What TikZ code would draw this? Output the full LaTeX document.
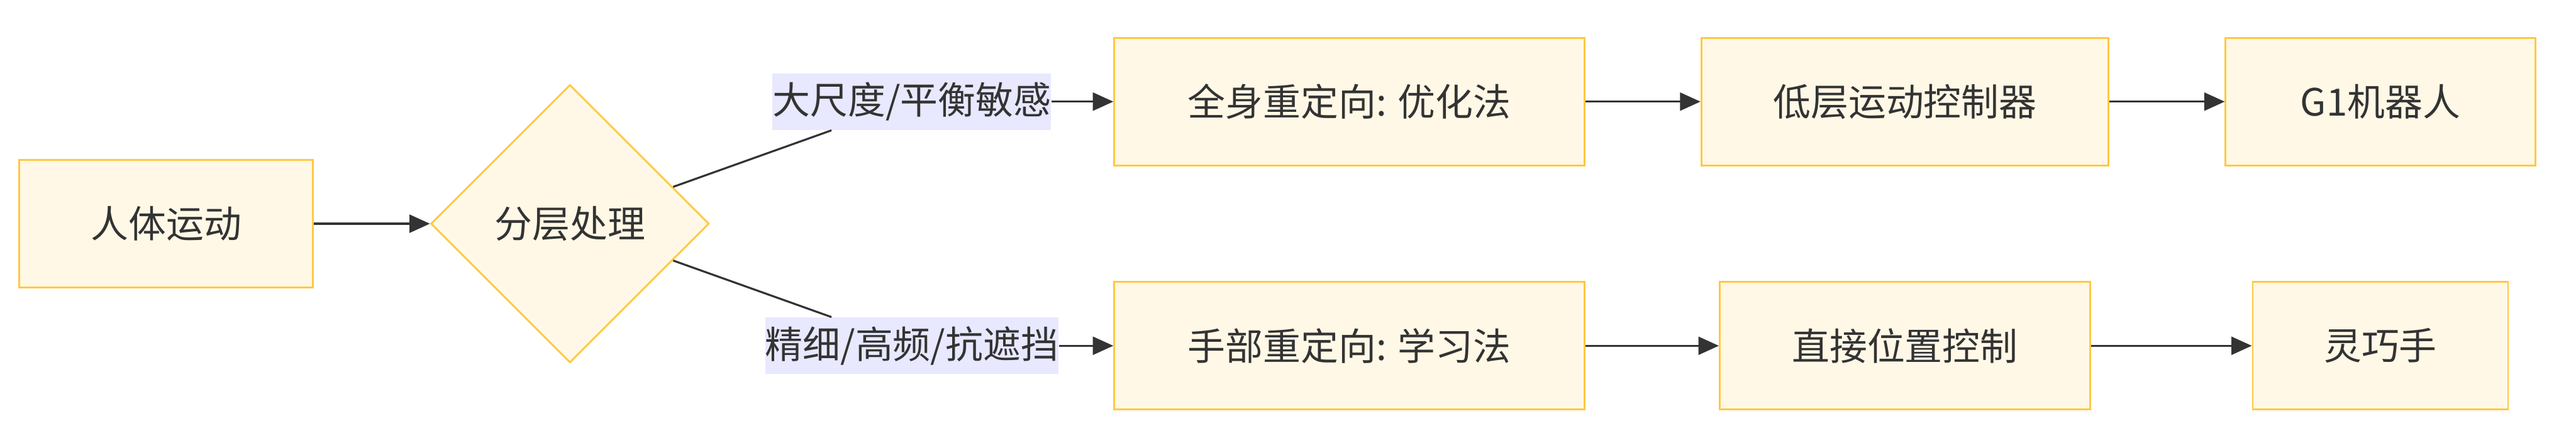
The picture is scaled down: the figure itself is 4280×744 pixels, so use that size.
\documentclass[tikz,border=0pt]{standalone}
\usepackage{fontspec}
\newfontfamily\cjk{Noto Sans CJK SC}
\usetikzlibrary{shapes.geometric,arrows.meta}
\definecolor{boxfill}{HTML}{FFF8E6}
\definecolor{boxline}{HTML}{FFC843}
\definecolor{labelbg}{HTML}{E8E8FF}
\definecolor{ink}{HTML}{333333}
\begin{document}
\begin{tikzpicture}[x=0.01cm,y=-0.01cm,
  txt/.style={font=\cjk\fontsize{17.8}{20}\selectfont,text=ink},
  stage/.style={txt,draw=boxline,fill=boxfill,line width=0.03cm,minimum height=2.12cm,inner sep=0pt},
  choice/.style={txt,diamond,aspect=1,draw=boxline,fill=boxfill,line width=0.03cm,minimum width=4.62cm,minimum height=4.62cm,inner sep=0pt},
  tag/.style={txt,fill=labelbg,minimum height=0.94cm,inner sep=0pt},
  link/.style={draw=ink,line width=0.033cm},
  flow/.style={link,-{Triangle[length=0.34cm,width=0.30cm]}}]
  \useasboundingbox (0,0) rectangle (4280,744);

  % nodes
  \node[stage,minimum width=4.88cm] (motion) at (276,372) {人体运动};
  \node[choice] (split) at (947,372) {分层处理};
  \node[tag,minimum width=4.60cm] (coarse) at (1515,169) {大尺度/平衡敏感};
  \node[tag,minimum width=4.81cm] (fine) at (1515,575) {精细/高频/抗遮挡};
  \node[stage,minimum width=7.81cm] (body) at (2242,169) {全身重定向: 优化法};
  \node[stage,minimum width=6.76cm] (lowctrl) at (3165,169) {低层运动控制器};
  \node[stage,minimum width=5.14cm] (robot) at (3955,169) {G1机器人};
  \node[stage,minimum width=7.81cm] (handrt) at (2242,575) {手部重定向: 学习法};
  \node[stage,minimum width=6.15cm] (posctrl) at (3165,575) {直接位置控制};
  \node[stage,minimum width=4.24cm] (dex) at (3955,575) {灵巧手};

  % connectors
  \draw[flow] (motion) -- (split);
  \draw[link] (split) -- (coarse);
  \draw[link] (split) -- (fine);
  \draw[flow] (coarse) -- (body);
  \draw[flow] (fine) -- (handrt);
  \draw[flow] (body) -- (lowctrl);
  \draw[flow] (lowctrl) -- (robot);
  \draw[flow] (handrt) -- (posctrl);
  \draw[flow] (posctrl) -- (dex);
\end{tikzpicture}
\end{document}
